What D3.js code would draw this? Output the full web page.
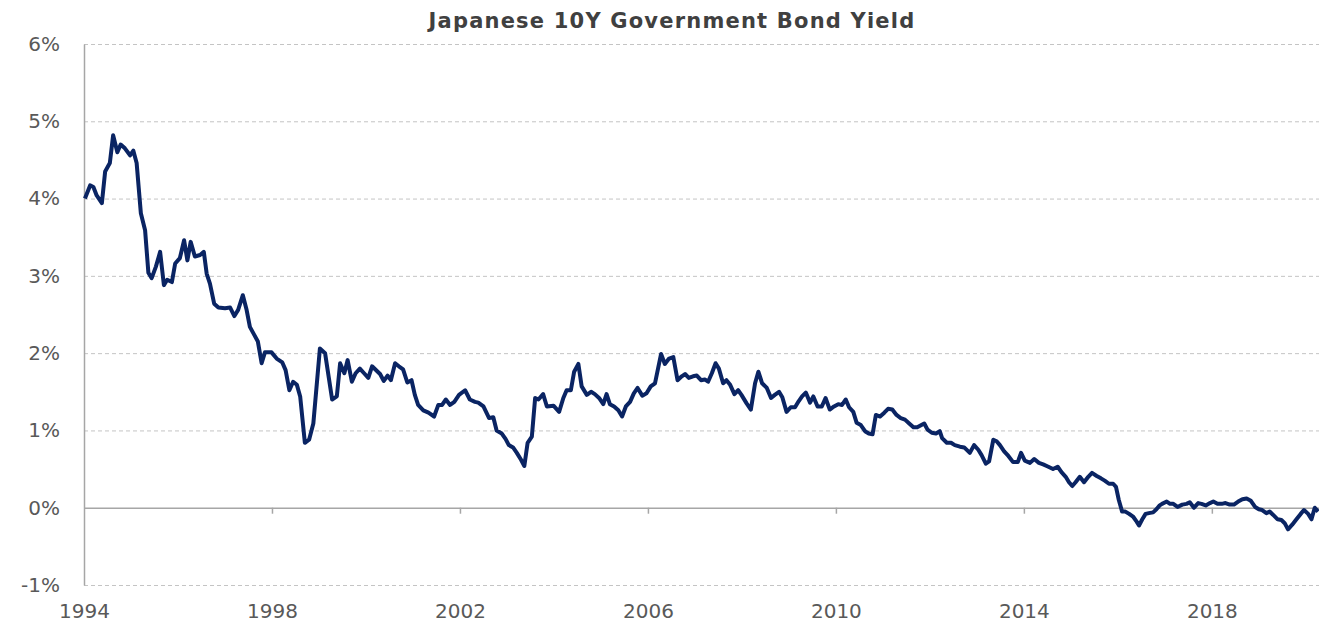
<!DOCTYPE html>
<html>
<head>
<meta charset="utf-8">
<script src="https://cdn.jsdelivr.net/npm/d3@7"></script>
<style>
  body { margin: 0; background: #fff; }
  svg { display: block; font-family: "DejaVu Sans", sans-serif; }
</style>
</head>
<body>
<div id="chart"></div>
<script>
// data: time in years since Jan 1994, yield in %
const startYear = 1994;
const yearsSince1994 = [
  0.02, 0.13, 0.20, 0.27, 0.38, 0.45, 0.55, 0.62, 0.71, 0.78, 0.87, 0.98,
  1.05, 1.12, 1.21, 1.30, 1.37, 1.44, 1.53, 1.62, 1.70, 1.77, 1.87, 1.94,
  2.04, 2.13, 2.20, 2.27, 2.36, 2.47, 2.55, 2.61, 2.68, 2.77, 2.86, 3.00,
  3.11, 3.20, 3.28, 3.38, 3.46, 3.53, 3.62, 3.70, 3.78, 3.85, 3.99, 4.10,
  4.22, 4.29, 4.37, 4.45, 4.53, 4.60, 4.70, 4.79, 4.88, 5.02, 5.13, 5.21,
  5.28, 5.38, 5.45, 5.54, 5.61, 5.70, 5.78, 5.87, 5.96, 6.05, 6.13, 6.25,
  6.30, 6.38, 6.46, 6.53, 6.62, 6.70, 6.79, 6.88, 6.97, 7.04, 7.11, 7.22,
  7.33, 7.45, 7.54, 7.62, 7.70, 7.79, 7.88, 7.98, 8.11, 8.21, 8.32, 8.39,
  8.50, 8.62, 8.71, 8.78, 8.89, 8.97, 9.04, 9.13, 9.21, 9.30, 9.37, 9.44,
  9.53, 9.60, 9.67, 9.77, 9.85, 9.99, 10.11, 10.20, 10.27, 10.36, 10.43, 10.52,
  10.59, 10.70, 10.79, 10.87, 10.96, 11.05, 11.12, 11.19, 11.28, 11.37, 11.45, 11.53,
  11.62, 11.70, 11.78, 11.88, 11.97, 12.06, 12.15, 12.28, 12.36, 12.45, 12.54, 12.63,
  12.72, 12.79, 12.87, 12.96, 13.04, 13.13, 13.21, 13.28, 13.36, 13.44, 13.51, 13.60,
  13.67, 13.75, 13.84, 13.92, 13.99, 14.10, 14.19, 14.28, 14.35, 14.43, 14.53, 14.62,
  14.70, 14.79, 14.86, 14.95, 15.04, 15.13, 15.21, 15.28, 15.36, 15.45, 15.52, 15.61,
  15.70, 15.78, 15.87, 15.96, 16.05, 16.13, 16.21, 16.28, 16.37, 16.44, 16.53, 16.62,
  16.70, 16.78, 16.85, 16.94, 17.03, 17.11, 17.20, 17.29, 17.38, 17.47, 17.56, 17.65,
  17.73, 17.88, 17.95, 18.04, 18.13, 18.21, 18.26, 18.36, 18.45, 18.53, 18.64, 18.73,
  18.85, 18.94, 19.03, 19.10, 19.19, 19.26, 19.35, 19.42, 19.49, 19.58, 19.67, 19.77,
  19.87, 19.94, 20.02, 20.13, 20.22, 20.32, 20.41, 20.52, 20.62, 20.72, 20.80, 20.89,
  20.96, 21.03, 21.10, 21.19, 21.28, 21.37, 21.45, 21.55, 21.64, 21.72, 21.81, 21.90,
  21.96, 22.02, 22.09, 22.16, 22.24, 22.33, 22.40, 22.45, 22.52, 22.59, 22.66, 22.75,
  22.82, 22.89, 22.94, 23.04, 23.11, 23.18, 23.27, 23.37, 23.46, 23.53, 23.62, 23.71,
  23.78, 23.87, 23.96, 24.03, 24.12, 24.21, 24.29, 24.38, 24.47, 24.56, 24.65, 24.74,
  24.83, 24.92, 25.00, 25.07, 25.16, 25.23, 25.30, 25.40, 25.48, 25.55, 25.62, 25.71,
  25.80, 25.89, 25.96, 26.05, 26.12, 26.19, 26.26
];
const yields = [
  4.00, 4.17, 4.15, 4.04, 3.94, 4.35, 4.46, 4.82, 4.60, 4.70, 4.65, 4.56,
  4.62, 4.46, 3.81, 3.59, 3.04, 2.97, 3.12, 3.31, 2.88, 2.95, 2.92, 3.16,
  3.23, 3.46, 3.20, 3.44, 3.25, 3.27, 3.31, 3.03, 2.90, 2.64, 2.59, 2.58,
  2.59, 2.48, 2.56, 2.75, 2.56, 2.34, 2.24, 2.15, 1.87, 2.01, 2.01, 1.93,
  1.88, 1.78, 1.52, 1.63, 1.59, 1.44, 0.84, 0.88, 1.09, 2.06, 2.00, 1.68,
  1.40, 1.44, 1.87, 1.74, 1.91, 1.63, 1.74, 1.80, 1.74, 1.68, 1.83, 1.76,
  1.73, 1.64, 1.71, 1.65, 1.87, 1.83, 1.79, 1.62, 1.65, 1.46, 1.33, 1.26,
  1.23, 1.18, 1.33, 1.33, 1.40, 1.33, 1.37, 1.46, 1.52, 1.40, 1.37, 1.36,
  1.31, 1.16, 1.17, 1.00, 0.96, 0.89, 0.81, 0.78, 0.71, 0.62, 0.54, 0.84,
  0.92, 1.42, 1.40, 1.47, 1.31, 1.32, 1.24, 1.42, 1.52, 1.52, 1.76, 1.86,
  1.57, 1.46, 1.50, 1.47, 1.42, 1.34, 1.47, 1.34, 1.31, 1.26, 1.18, 1.31,
  1.37, 1.48, 1.55, 1.45, 1.48, 1.57, 1.61, 1.99, 1.86, 1.93, 1.95, 1.65,
  1.70, 1.73, 1.68, 1.70, 1.71, 1.65, 1.66, 1.63, 1.74, 1.87, 1.80, 1.61,
  1.65, 1.59, 1.47, 1.52, 1.46, 1.35, 1.27, 1.61, 1.76, 1.61, 1.55, 1.42,
  1.46, 1.50, 1.43, 1.24, 1.30, 1.30, 1.38, 1.44, 1.49, 1.36, 1.44, 1.31,
  1.31, 1.42, 1.27, 1.31, 1.34, 1.33, 1.40, 1.30, 1.24, 1.10, 1.07, 0.99,
  0.96, 0.95, 1.20, 1.18, 1.23, 1.28, 1.27, 1.20, 1.16, 1.14, 1.09, 1.04,
  1.04, 1.09, 1.01, 0.97, 0.96, 0.99, 0.90, 0.84, 0.84, 0.81, 0.79, 0.78,
  0.71, 0.81, 0.75, 0.68, 0.57, 0.60, 0.88, 0.86, 0.81, 0.73, 0.67, 0.59,
  0.59, 0.71, 0.61, 0.58, 0.63, 0.58, 0.56, 0.53, 0.50, 0.53, 0.46, 0.40,
  0.33, 0.28, 0.33, 0.40, 0.33, 0.40, 0.45, 0.41, 0.38, 0.35, 0.31, 0.31,
  0.27, 0.10, -0.05, -0.05, -0.08, -0.12, -0.18, -0.23, -0.15, -0.08, -0.07, -0.06,
  -0.02, 0.03, 0.05, 0.08, 0.05, 0.05, 0.01, 0.04, 0.05, 0.07, 0.00, 0.06,
  0.05, 0.03, 0.06, 0.08, 0.05, 0.05, 0.06, 0.04, 0.04, 0.08, 0.11, 0.12,
  0.09, 0.01, -0.02, -0.03, -0.07, -0.05, -0.09, -0.15, -0.16, -0.20, -0.28, -0.22,
  -0.15, -0.08, -0.03, -0.08, -0.15, 0.00, -0.05
];
const yTicks = [-1, 0, 1, 2, 3, 4, 5, 6];
const xTicks = [1994, 1998, 2002, 2006, 2010, 2014, 2018];
const title = 'Japanese 10Y Government Bond Yield';

const width = 1319;
const height = 629;
const margin = { top: 44, right: 0, bottom: 44, left: 84 };
const fontFamily = '"DejaVu Sans", sans-serif';

const series = yearsSince1994.map((t, i) => ({ year: startYear + t, value: yields[i] }));

const svg = d3.select('#chart')
  .append('svg')
  .attr('width', width)
  .attr('height', height);

const xScale = d3.scaleLinear()
  .domain([1994, 2020.28])
  .range([margin.left, width - margin.right]);

const yScale = d3.scaleLinear()
  .domain([-1, 6])
  .range([height - margin.bottom, margin.top]);

// gridlines, dashed
svg.append('g')
  .attr('transform', `translate(${margin.left}, 0)`)
  .call(d3.axisLeft(yScale).tickValues(yTicks.filter(d => d !== 0)).tickFormat('').tickSize(-(width - margin.left - margin.right)))
  .call(g => g.select('.domain').remove())
  .call(g => g.selectAll('line')
    .attr('stroke', '#c4c4c4')
    .attr('stroke-width', 1)
    .attr('stroke-dasharray', '4,3'));

// y axis labels + vertical line
svg.append('g')
  .attr('transform', `translate(${margin.left}, 0)`)
  .call(d3.axisLeft(yScale).tickValues(yTicks).tickFormat(d => d + '%').tickSize(0).tickPadding(24))
  .call(g => g.select('.domain').attr('stroke', '#a6a6a6').attr('stroke-width', 1.5))
  .call(g => g.selectAll('text')
    .attr('fill', '#595959')
    .style('font-family', fontFamily)
    .style('font-size', '20px'));

// zero line with year ticks
svg.append('g')
  .attr('transform', `translate(0, ${yScale(0)})`)
  .call(d3.axisBottom(xScale).tickValues(xTicks.slice(1)).tickFormat('').tickSize(6).tickSizeOuter(0))
  .call(g => g.select('.domain').attr('stroke', '#a6a6a6').attr('stroke-width', 1.5))
  .call(g => g.selectAll('line').attr('stroke', '#a6a6a6').attr('stroke-width', 1.5));

// year labels at the bottom
svg.append('g')
  .attr('transform', `translate(0, ${yScale(-1)})`)
  .call(d3.axisBottom(xScale).tickValues(xTicks).tickFormat(d3.format('d')).tickSize(0).tickPadding(19))
  .call(g => g.select('.domain').remove())
  .call(g => g.selectAll('text')
    .attr('fill', '#595959')
    .style('font-family', fontFamily)
    .style('font-size', '20px'));

const line = d3.line()
  .x(d => xScale(d.year))
  .y(d => yScale(d.value));

svg.append('path')
  .datum(series)
  .attr('fill', 'none')
  .attr('stroke', '#0a2463')
  .attr('stroke-width', 4)
  .attr('stroke-linejoin', 'round')
  .attr('d', line);

svg.append('text')
  .attr('x', 672)
  .attr('y', 28)
  .attr('text-anchor', 'middle')
  .attr('fill', '#404040')
  .style('font-family', fontFamily)
  .style('font-size', '21px')
  .style('font-weight', 'bold')
  .style('letter-spacing', '1.2px')
  .text(title);
</script>
</body>
</html>
